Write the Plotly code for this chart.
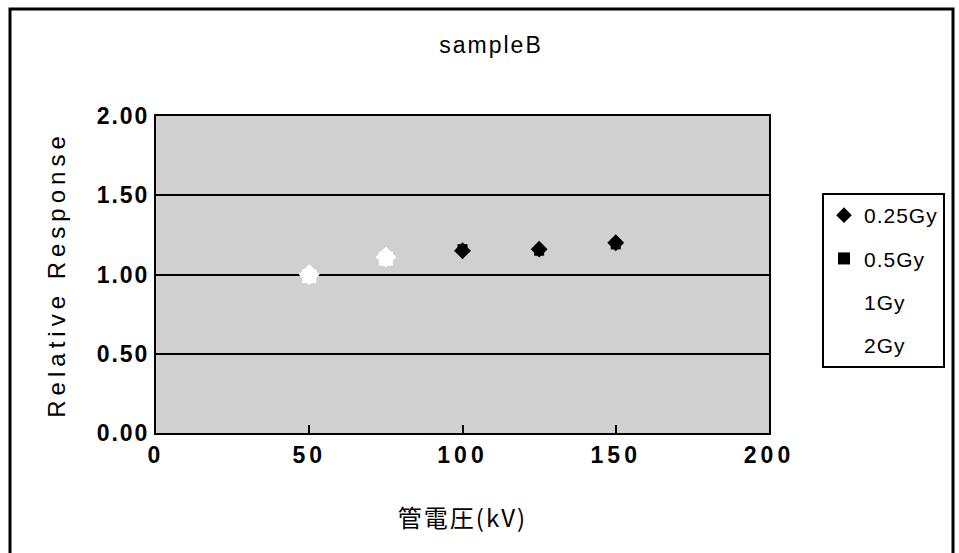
import plotly.graph_objects as go

kv = [50, 75, 100, 125, 150]
resp_025 = [1.00, 1.11, 1.15, 1.16, 1.20]
resp_05 = [1.00, 1.10, 1.16, 1.15, 1.19]
resp_1 = [1.00, 1.11, None, None, None]
resp_2 = [0.99, 1.10, None, None, None]
series_names = ["0.25Gy", "0.5Gy", "1Gy", "2Gy"]
y_ticks = [0.0, 0.5, 1.0, 1.5, 2.0]
x_ticks = [0, 50, 100, 150, 200]

FONT = "Liberation Sans, Arial, sans-serif"
CJK = "Noto Sans CJK JP, sans-serif"


def spaced(t, px):
    return '<span style="letter-spacing:%dpx">%s</span>' % (px, t)


fig = go.Figure()
styles = [
    dict(symbol="diamond", size=13, color="black"),
    dict(symbol="square", size=10, color="black"),
    dict(symbol="diamond", size=16, color="white"),
    dict(symbol="square", size=14, color="white"),
]
for i, (name, ys) in enumerate(zip(series_names, [resp_025, resp_05, resp_1, resp_2])):
    st = styles[i]
    fig.add_trace(go.Scatter(
        x=kv, y=ys, mode="markers", name=spaced(name, 1), legendgroup=name,
        marker=dict(symbol=st["symbol"], size=st["size"], color=st["color"], line=dict(width=0)),
        cliponaxis=False,
    ))

L, R, T, B = 156, 190, 116, 120
W, H = 959, 553
pw, ph = W - L - R, H - T - B


def px(x):
    return (x - L) / pw


def py(y):
    return (H - B - y) / ph


fig.update_layout(
    width=W, height=H,
    margin=dict(l=L, r=R, t=T, b=B),
    paper_bgcolor="white",
    plot_bgcolor="#d0d0d0",
    font=dict(family=FONT, color="black", size=20),
    showlegend=True,
    legend=dict(
        x=px(822), y=py(193), xanchor="left", yanchor="top",
        bgcolor="white", bordercolor="black", borderwidth=2,
        font=dict(family=FONT, size=21, color="black"),
        tracegroupgap=13, itemsizing="constant", itemwidth=30,
    ),
    xaxis=dict(
        range=[0, 200], tickvals=x_ticks, ticktext=[spaced(str(v), 4) for v in x_ticks],
        showgrid=False, zeroline=False,
        showline=True, linecolor="black", linewidth=2, mirror=True,
        ticks="inside", ticklen=8, tickcolor="black", tickwidth=2,
        tickfont=dict(family=FONT, size=23, weight="bold"),
        title=dict(text=spaced("管電圧(kV)", 2), font=dict(family=CJK, size=24), standoff=44),
    ),
    yaxis=dict(
        range=[0, 2], tickvals=y_ticks, ticktext=[spaced("%.2f" % v, 2) for v in y_ticks],
        showgrid=True, gridcolor="black", gridwidth=2, zeroline=False,
        showline=True, linecolor="black", linewidth=2, mirror=True,
        ticks="", tickfont=dict(family=FONT, size=23, weight="bold"),
        title=dict(text=spaced("Relative Response", 5), font=dict(family=FONT, size=24), standoff=24),
    ),
    title=dict(text=spaced("sampleB", 2), x=491 / W, xanchor="center", y=1 - 45 / H, yanchor="middle",
               font=dict(family=FONT, size=23)),
    shapes=[dict(type="rect", xref="paper", yref="paper",
                 x0=px(10), x1=px(953), y0=py(600), y1=py(9),
                 line=dict(color="black", width=3), layer="above")],
)

fig.write_html("out.html")
